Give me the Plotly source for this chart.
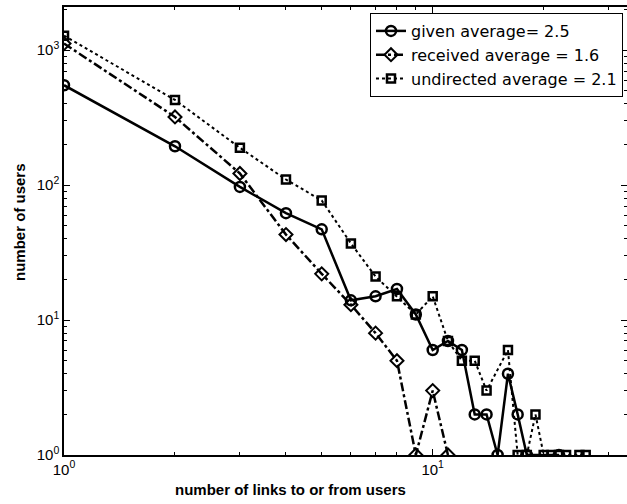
import plotly.graph_objects as go

# ---- data ----
given_x = [1, 2, 3, 4, 5, 6, 7, 8, 9, 10, 11, 12, 13, 14, 15, 16, 17, 18, 22]
given_y = [550, 194, 97, 62, 47, 14, 15, 17, 11, 6, 7, 6, 2, 2, 1, 4, 2, 1, 1]

received_x = [1, 2, 3, 4, 5, 6, 7, 8, 9, 10, 11]
received_y = [1120, 320, 122, 43, 22, 13, 8, 5, 1, 3, 1]

undirected_x = [1, 2, 3, 4, 5, 6, 7, 8, 9, 10, 11, 12, 13, 14, 16, 17, 18, 19, 20, 21, 22, 23, 25, 26]
undirected_y = [1280, 428, 189, 110, 77, 37, 21, 15, 11, 15, 7, 5, 5, 3, 6, 1, 1, 2, 1, 1, 1, 1, 1, 1]

series_names = ["given average= 2.5", "received average = 1.6", "undirected average = 2.1"]

y_tickvals = [1, 10, 100, 1000]
y_ticktext = ["10<sup>0</sup>", "10<sup>1</sup>", "10<sup>2</sup>", "10<sup>3</sup>"]
x_tickvals = [1, 10]
x_ticktext = ["10<sup>0</sup>", "10<sup>1</sup>"]
x_minor = [2, 3, 4, 5, 6, 7, 8, 9, 20, 30]
y_minor = [2, 3, 4, 5, 6, 7, 8, 9, 20, 30, 40, 50, 60, 70, 80, 90,
           200, 300, 400, 500, 600, 700, 800, 900, 2000]

x_title = "number of links to or from users"
y_title = "number of users"

FONT = "Liberation Sans, Arial, Helvetica, sans-serif"
LEGEND_FONT = "DejaVu Sans, Liberation Sans, sans-serif"

fig = go.Figure()
fig.add_trace(go.Scatter(
    x=given_x, y=given_y, name=series_names[0], mode="lines+markers",
    line=dict(color="black", width=2.5, dash="solid"),
    marker=dict(symbol="circle-open", size=10, color="black", line=dict(width=2.5, color="black")),
))
fig.add_trace(go.Scatter(
    x=received_x, y=received_y, name=series_names[1], mode="lines+markers",
    line=dict(color="black", width=2.5, dash="dashdot"),
    marker=dict(symbol="diamond-open", size=10, color="black", line=dict(width=2, color="black")),
))
fig.add_trace(go.Scatter(
    x=undirected_x, y=undirected_y, name=series_names[2], mode="lines+markers",
    line=dict(color="black", width=2, dash="dot"),
    marker=dict(symbol="square-open", size=8, color="black", line=dict(width=2.5, color="black")),
))

axis_common = dict(
    type="log", showgrid=False, zeroline=False, showline=True, linecolor="black",
    linewidth=1.5, mirror="ticks", ticks="inside", ticklen=6, tickcolor="black",
    tickfont=dict(family=FONT, size=15, color="black"),
)

fig.update_layout(
    width=627, height=504,
    margin=dict(l=64, r=0, t=7, b=49, autoexpand=False),
    paper_bgcolor="white", plot_bgcolor="white",
    font=dict(family=FONT, color="black"),
    showlegend=True,
    legend=dict(
        x=0.5435, xanchor="left", y=0.9866, yanchor="top",
        bordercolor="black", borderwidth=1, bgcolor="white",
        font=dict(family=LEGEND_FONT, size=16, color="black"),
        tracegroupgap=0, itemwidth=30,
    ),
    annotations=[
        dict(text="<b>" + x_title + "</b>", xref="paper", yref="paper",
             x=0.403, y=-0.078, xanchor="center", yanchor="middle", showarrow=False,
             font=dict(family=FONT, size=15, color="black")),
        dict(text="<b>" + y_title + "</b>", xref="paper", yref="paper",
             x=-0.08, y=0.52, xanchor="center", yanchor="middle", showarrow=False,
             textangle=-90, font=dict(family=FONT, size=15, color="black")),
    ],
)
fig.update_xaxes(
    **axis_common, range=[0, 1.527],
    tickvals=x_tickvals, ticktext=x_ticktext,
    minor=dict(tickmode="array", tickvals=x_minor, ticks="inside", ticklen=3,
               tickcolor="black", showgrid=False),
)
fig.update_yaxes(
    **axis_common, range=[0, 3.32],
    tickvals=y_tickvals, ticktext=y_ticktext,
    minor=dict(tickmode="array", tickvals=y_minor, ticks="inside", ticklen=3,
               tickcolor="black", showgrid=False),
)

fig.write_html("out.html", config={"displayModeBar": False},
               post_script="document.body.style.margin='0';")
